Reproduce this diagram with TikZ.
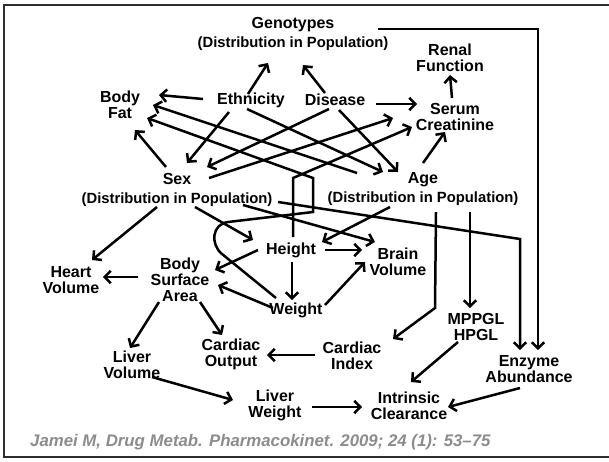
\documentclass[tikz,border=0pt]{standalone}
\usepackage{fontspec}
\setmainfont{Liberation Sans}
\usetikzlibrary{arrows.meta,calc}
\definecolor{citegray}{RGB}{140,140,140}
\definecolor{framegray}{RGB}{45,45,45}
\begin{document}
\begin{tikzpicture}[x=1pt,y=-1pt,
  lbl/.style={font=\fontsize{16}{16}\selectfont\bfseries, align=center, inner sep=0pt},
  dlbl/.style={font=\fontsize{16}{18.5}\selectfont\bfseries, align=center, inner sep=0pt},
  conn/.style={line width=2.5pt, -{Straight Barb[length=6pt,width=12.5pt]}, line join=miter},
  cite/.style={font=\fontsize{16.8}{17}\selectfont\bfseries\itshape, text=citegray, inner sep=0pt, anchor=west}]
\useasboundingbox (0,0) rectangle (609,461);
\fill[white] (0,0) rectangle (609,461);
\draw[framegray, line width=2.5pt] (4,5) rectangle (625,457);

% nodes
\node[dlbl] (geno) at (293,34) {Genotypes\\{\fontsize{14.8}{18.5}\selectfont (Distribution in Population)}};
\node[lbl] (renal) at (450,57.5) {Renal\\Function};
\node[lbl] (serum) at (455,116.5) {Serum\\Creatinine};
\node[lbl] (disease) at (335,100) {Disease};
\node[lbl] (ethn) at (251,100) {Ethnicity};
\node[lbl] (bodyfat) at (120,104.5) {Body\\Fat};
\node[dlbl] (sex) at (177,190) {Sex\\{\fontsize{14.8}{18.5}\selectfont (Distribution in Population)}};
\node[dlbl] (age) at (423,189) {Age\\{\fontsize{14.8}{18.5}\selectfont (Distribution in Population)}};
\node[lbl] (height) at (291,250) {Height};
\node[lbl] (brain) at (398,262) {Brain\\Volume};
\node[lbl] (heart) at (71,280.5) {Heart\\Volume};
\node[lbl] (bsa) at (180,279.5) {Body\\Surface\\Area};
\node[lbl] (weight) at (296,310) {Weight};
\node[lbl] (liverv) at (132,364.5) {Liver\\Volume};
\node[lbl] (cardout) at (231,354.5) {Cardiac\\Output};
\node[lbl] (cardidx) at (352,355.5) {Cardiac\\Index};
\node[lbl] (mppgl) at (476,327) {MPPGL\\HPGL};
\node[lbl] (enzyme) at (529,369) {Enzyme\\Abundance};
\node[lbl] (intr) at (409,405.5) {Intrinsic\\Clearance};
\node[lbl] (liverw) at (275,405.5) {Liver\\Weight};
\node[cite] (citation) at (30,442) {Jamei M, Drug Metab. Pharmacokinet. 2009; 24 (1): 53–75};

% connectors
\draw[conn] ($(geno)+(85,-5)$) -| ($(enzyme)+(9,-19)$);
\draw[conn] ($(ethn)+(-3,-6)$) -- ($(geno)+(-25,29)$);
\draw[conn] ($(disease)+(-10,-7)$) -- ($(geno)+(10,31)$);
\draw[conn] ($(ethn)+(-48,-1)$) -- ($(bodyfat)+(39,-9.5)$);
\draw[conn] ($(disease)+(41,4)$) -- ($(serum)+(-38,-12.5)$);
\draw[conn] ($(serum)+(-3,-18.5)$) -- ($(renal)+(0,17.5)$);
\draw[conn] ($(age)+(0,-26)$) -- ($(serum)+(-10,15.5)$);
\draw[conn] ($(sex)+(-11,-23)$) -- ($(bodyfat)+(15,25.5)$);
\draw[conn] ($(ethn)+(-22,12)$) -- ($(sex)+(10,-27)$);
\draw[conn] ($(disease)+(-6,9)$) -- ($(sex)+(30,-23)$);
\draw[conn] ($(ethn)+(-4,9)$) -- ($(age)+(-40,-17)$);
\draw[conn] ($(disease)+(4,10)$) -- ($(age)+(-25,-17)$);
\draw[conn] ($(sex)+(32,-12)$) -- ($(serum)+(-62,1.5)$);
\draw[conn] ($(age)+(-66,-16)$) -- ($(bodyfat)+(33,0.5)$);
\draw[conn] ($(height)+(2,-13)$) -- ($(height)+(2,-72)$) -- ($(serum)+(-43,10.5)$);
\draw[conn] ($(weight)+(-20,-12)$) -- (222,254) .. controls (210,244) and (212,224) .. (228,222)
  -- (313,212) -- (313,178) -- ($(bodyfat)+(27,13.5)$);
\draw[conn] ($(sex)+(101,12)$) -- ($(enzyme)+(-9,-130)$) -- ($(enzyme)+(-9,-19)$);
\draw[conn] ($(sex)+(-20,17)$) -- ($(heart)+(21,-20.5)$);
\draw[conn] ($(sex)+(18,17)$) -- ($(height)+(-38,-10)$);
\draw[conn] ($(sex)+(66,15)$) -- ($(brain)+(-23,-20)$);
\draw[conn] ($(age)+(-33,18)$) -- ($(height)+(31,-8)$);
\draw[conn] ($(age)+(13,23)$) -- ($(cardidx)+(83,-47.5)$) -- ($(cardidx)+(41,-16.5)$);
\draw[conn] ($(age)+(47,23)$) -- ($(mppgl)+(-6,-19)$);
\draw[conn] ($(height)+(34,0)$) -- ($(brain)+(-36,-12)$);
\draw[conn] ($(height)+(-33,0)$) -- ($(bsa)+(35,-9.5)$);
\draw[conn] ($(height)+(1,12)$) -- ($(weight)+(-4,-10)$);
\draw[conn] ($(weight)+(-23,-2)$) -- ($(bsa)+(38,5.5)$);
\draw[conn] ($(weight)+(29,-5)$) -- ($(brain)+(-33,0)$);
\draw[conn] ($(bsa)+(-42,-2.5)$) -- ($(heart)+(32,-3.5)$);
\draw[conn] ($(bsa)+(-21,22.5)$) -- ($(liverv)+(-2,-16.5)$);
\draw[conn] ($(bsa)+(20,22.5)$) -- ($(cardout)+(-9,-19.5)$);
\draw[conn] ($(cardidx)+(-37,-0.5)$) -- ($(cardout)+(36,0.5)$);
\draw[conn] ($(liverv)+(20,12.5)$) -- ($(liverw)+(-42,-5.5)$);
\draw[conn] ($(liverw)+(37,1.5)$) -- ($(intr)+(-47,1.5)$);
\draw[conn] ($(mppgl)+(-18,15)$) -- ($(intr)+(2,-23.5)$);
\draw[conn] ($(enzyme)+(-9,19)$) -- ($(intr)+(39,1.5)$);
\end{tikzpicture}
\end{document}
